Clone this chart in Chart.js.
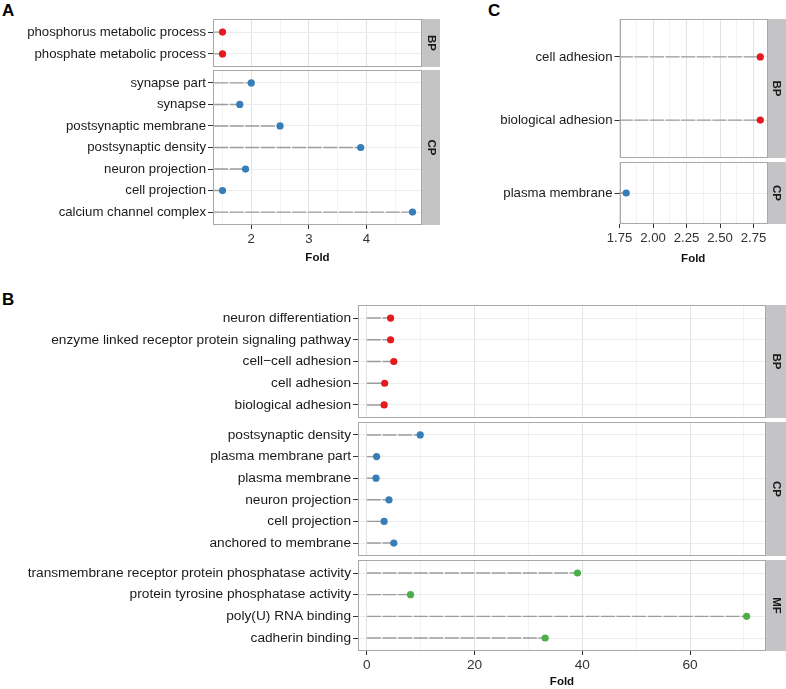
<!DOCTYPE html>
<html>
<head>
<meta charset="utf-8">
<script src="https://cdn.jsdelivr.net/npm/chart.js@4"></script>
<style>
  body { margin: 0; background: #fff; width: 786px; height: 689px; position: relative; overflow: hidden;
         font-family: 'Liberation Sans', Arial, Helvetica, sans-serif; }
  .lab { position: absolute; font-weight: bold; font-size: 17px; line-height: 17px; color: #000; }
  canvas { position: absolute; }
</style>
</head>
<body>
<div class="lab" style="left:2px;top:2px">A</div>
<div class="lab" style="left:488px;top:2px">C</div>
<div class="lab" style="left:2px;top:291px">B</div>
<script>
// panel A
const aBpTerms = ['phosphorus metabolic process', 'phosphate metabolic process'];
const aBpFold = [1.5, 1.5];
const aCpTerms = ['synapse part', 'synapse', 'postsynaptic membrane', 'postsynaptic density',
                  'neuron projection', 'cell projection', 'calcium channel complex'];
const aCpFold = [2.0, 1.8, 2.5, 3.9, 1.9, 1.5, 4.8];
const aTicks = [2, 3, 4];
const aMinor = [1.5, 2.5, 3.5, 4.5];

// panel C
const cBpTerms = ['cell adhesion', 'biological adhesion'];
const cBpFold = [2.8, 2.8];
const cCpTerms = ['plasma membrane'];
const cCpFold = [1.8];
const cTicks = [1.75, 2.0, 2.25, 2.5, 2.75];
const cMinor = [1.875, 2.125, 2.375, 2.625];

// panel B
const bBpTerms = ['neuron differentiation', 'enzyme linked receptor protein signaling pathway',
                  'cell\u2212cell adhesion', 'cell adhesion', 'biological adhesion'];
const bBpFold = [4.4, 4.4, 5.0, 3.3, 3.2];
const bCpTerms = ['postsynaptic density', 'plasma membrane part', 'plasma membrane',
                  'neuron projection', 'cell projection', 'anchored to membrane'];
const bCpFold = [9.9, 1.8, 1.7, 4.1, 3.2, 5.0];
const bMfTerms = ['transmembrane receptor protein phosphatase activity', 'protein tyrosine phosphatase activity',
                  'poly(U) RNA binding', 'cadherin binding'];
const bMfFold = [39.1, 8.1, 70.5, 33.1];
const bTicks = [0, 20, 40, 60];
const bMinor = [10, 30, 50, 70];

const RED = '#e41a1c', BLUE = '#377eb8', GREEN = '#4daf4a';
const FONT = "'Liberation Sans', Arial, Helvetica, sans-serif";
Chart.defaults.font.family = FONT;

// grey facet strip on the right + panel border
const stripPlugin = {
  id: 'facetStrip',
  afterDraw(chart, args, opts) {
    const ctx = chart.ctx, a = chart.chartArea;
    ctx.save();
    ctx.fillStyle = '#c4c4c7';
    ctx.fillRect(a.right, a.top, opts.width, a.bottom - a.top);
    ctx.strokeStyle = '#a8a8a8';
    ctx.lineWidth = 1;
    ctx.strokeRect(Math.round(a.left) + 0.5, Math.round(a.top) + 0.5,
                   Math.round(a.right - a.left) - 1, Math.round(a.bottom - a.top) - 1);
    ctx.translate(a.right + opts.width / 2, (a.top + a.bottom) / 2);
    ctx.rotate(Math.PI / 2);
    ctx.fillStyle = '#1a1a1a';
    ctx.font = 'bold 11.5px ' + FONT;
    ctx.textAlign = 'center';
    ctx.textBaseline = 'middle';
    ctx.fillText(opts.text, 0, 0);
    ctx.restore();
  }
};

function facet(o) {
  const cv = document.createElement('canvas');
  cv.width = o.w; cv.height = o.h;
  cv.style.left = o.x + 'px'; cv.style.top = o.y + 'px';
  document.body.appendChild(cv);
  const n = o.terms.length;
  const dots = o.fold.map((v, i) => ({x: v, y: i}));
  const stems = [];
  o.fold.forEach((v, i) => { stems.push({x: o.base, y: i}, {x: v, y: i}, {x: v, y: null}); });
  const xt = o.major.concat(o.minor).sort((p, q) => p - q);
  const isMajor = v => o.major.includes(v);
  return new Chart(cv, {
    type: 'scatter',
    data: {
      datasets: [
        {data: dots, backgroundColor: o.color, pointRadius: 3.6, pointBorderWidth: 0, order: 0},
        {data: stems, showLine: true, borderColor: '#9c9c9c', borderWidth: 1.4, borderDash: [14, 1.6],
         pointRadius: 0, clip: 0, spanGaps: false, order: 1}
      ]
    },
    options: {
      responsive: false,
      animation: false,
      events: [],
      layout: {autoPadding: false, padding: {left: 0, right: o.strip, top: 0, bottom: 0}},
      plugins: {
        legend: {display: false},
        tooltip: {enabled: false},
        facetStrip: {text: o.label, width: o.strip}
      },
      scales: {
        x: {
          type: 'linear', min: o.xMin, max: o.xMax,
          afterBuildTicks: s => { s.ticks = xt.map(v => ({value: v})); },
          afterFit: s => { s.height = o.axisH; s.paddingLeft = 0; s.paddingRight = 0; },
          grid: {
            color: c => (c.tick && isMajor(c.tick.value)) ? '#e3e3e3' : '#f3f3f3',
            drawTicks: o.showX, tickLength: 4,
            tickColor: c => (c.tick && isMajor(c.tick.value)) ? '#333' : 'rgba(0,0,0,0)'
          },
          border: {display: false},
          ticks: {
            display: o.showX, autoSkip: false, maxRotation: 0, padding: 2,
            font: {size: o.fs}, color: '#333',
            callback: v => isMajor(v) ? o.fmt(v) : ''
          },
          title: {
            display: o.showX, text: 'Fold', color: '#111',
            font: {size: 11.5, weight: 'bold'}, padding: {top: 0, bottom: o.titlePad || 0}
          }
        },
        y: {
          type: 'linear', reverse: true, min: -0.6, max: n - 0.4,
          afterBuildTicks: s => { s.ticks = o.terms.map((t, i) => ({value: i})); },
          afterFit: s => { s.width = o.yW; s.paddingTop = 0; s.paddingBottom = 0; },
          grid: {color: '#ececec', tickLength: 5, tickColor: '#333'},
          border: {display: false},
          ticks: {autoSkip: false, padding: 2, font: {size: o.fs}, color: '#1a1a1a',
                  callback: v => o.terms[v]}
        }
      }
    },
    plugins: [stripPlugin]
  });
}

const fmtInt = v => String(v);
const fmt2 = v => v.toFixed(2);

// A
const aCommon = {x: 0, w: 440, yW: 213, strip: 18, base: 0, xMin: 1.335, xMax: 4.965,
                 major: aTicks, minor: aMinor, fmt: fmtInt, fs: 13.2};
facet(Object.assign({}, aCommon, {y: 19, h: 48, axisH: 0, showX: false,
  terms: aBpTerms, fold: aBpFold, color: RED, label: 'BP'}));
facet(Object.assign({}, aCommon, {y: 70, h: 200, axisH: 45, showX: true, titlePad: 5,
  terms: aCpTerms, fold: aCpFold, color: BLUE, label: 'CP'}));

// C
const cCommon = {x: 440, w: 346, yW: 179.5, strip: 19, base: 0, xMin: 1.75, xMax: 2.85,
                 major: cTicks, minor: cMinor, fmt: fmt2, fs: 13.2};
facet(Object.assign({}, cCommon, {y: 19, h: 139, axisH: 0, showX: false,
  terms: cBpTerms, fold: cBpFold, color: RED, label: 'BP'}));
facet(Object.assign({}, cCommon, {y: 162, h: 108, axisH: 46, showX: true, titlePad: 4,
  terms: cCpTerms, fold: cCpFold, color: BLUE, label: 'CP'}));

// B
const bCommon = {x: 0, w: 786, yW: 358, strip: 20, base: 0, xMin: -1.65, xMax: 74.1,
                 major: bTicks, minor: bMinor, fmt: fmtInt, fs: 13.7};
facet(Object.assign({}, bCommon, {y: 305, h: 113, axisH: 0, showX: false,
  terms: bBpTerms, fold: bBpFold, color: RED, label: 'BP'}));
facet(Object.assign({}, bCommon, {y: 422, h: 134, axisH: 0, showX: false,
  terms: bCpTerms, fold: bCpFold, color: BLUE, label: 'CP'}));
facet(Object.assign({}, bCommon, {y: 560, h: 129, axisH: 38, showX: true, titlePad: 0,
  terms: bMfTerms, fold: bMfFold, color: GREEN, label: 'MF'}));
</script>
</body>
</html>
